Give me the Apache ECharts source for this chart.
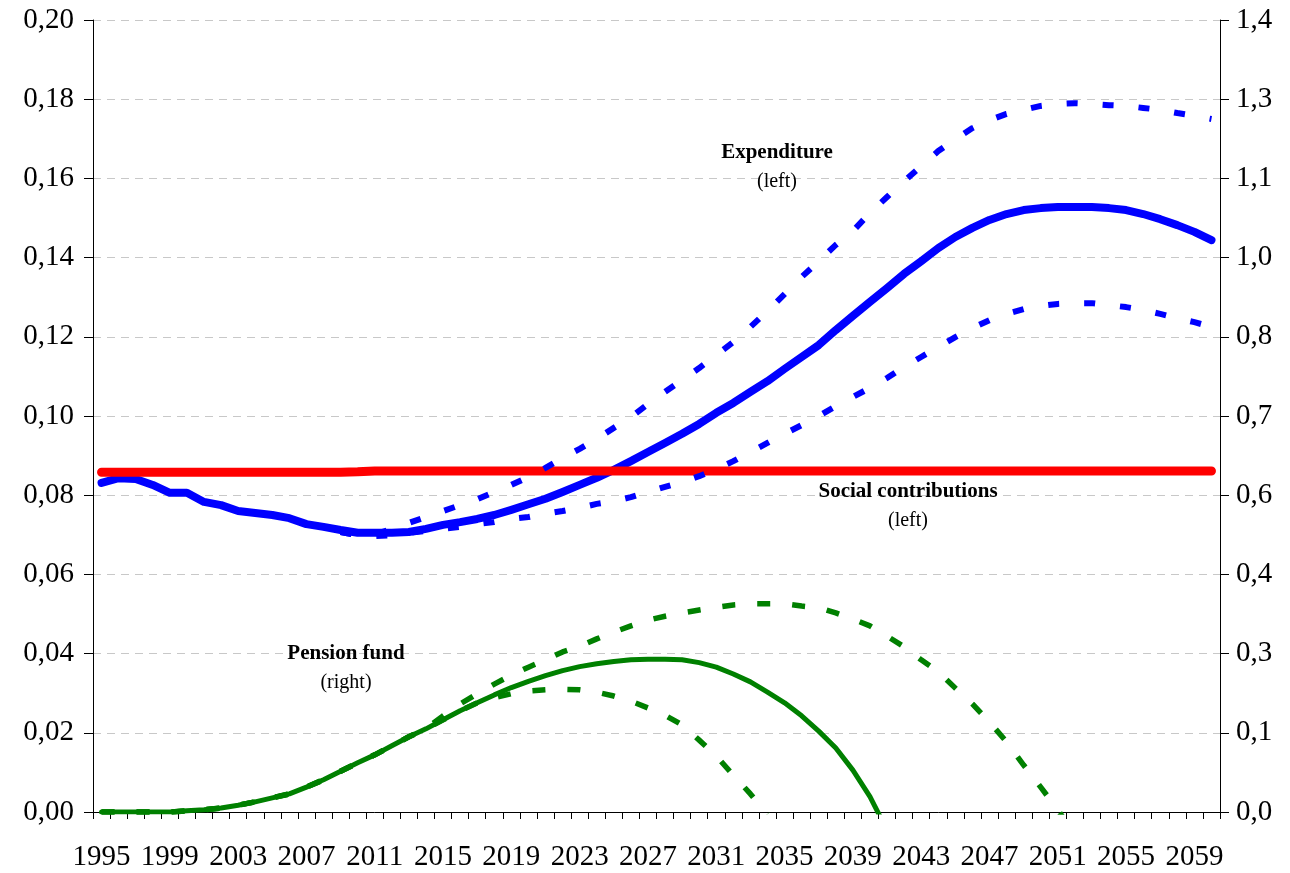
<!DOCTYPE html>
<html>
<head>
<meta charset="utf-8">
<title>Pension expenditure, social contributions and pension fund</title>
<script src="https://cdn.jsdelivr.net/npm/echarts@6/dist/echarts.min.js"></script>
<style>
  html, body { margin: 0; padding: 0; background: #fff; }
  #chart { width: 1290px; height: 873px; }
</style>
</head>
<body>
<div id="chart"></div>
<script>
// Years 1995–2060
const years = [];
for (let y = 1995; y <= 2060; y++) years.push(String(y));

// Expenditure, share of GDP (left axis): baseline and high/low variants (from 2009)
const expenditure = [
  0.0831, 0.0843, 0.0841, 0.0826, 0.0806, 0.0806, 0.0783, 0.0775, 0.0760, 0.0755,
  0.0750, 0.0742, 0.0727, 0.0720, 0.0712, 0.0705, 0.0705, 0.0705, 0.0707, 0.0715,
  0.0725, 0.0732, 0.0740, 0.0750, 0.0763, 0.0777, 0.0791, 0.0808, 0.0826, 0.0844,
  0.0864, 0.0886, 0.0909, 0.0932, 0.0955, 0.0980, 0.1008, 0.1033, 0.1061, 0.1088,
  0.1119, 0.1149, 0.1179, 0.1217, 0.1253, 0.1288, 0.1323, 0.1359, 0.1391, 0.1424,
  0.1452, 0.1475, 0.1495, 0.1510, 0.1520, 0.1525, 0.1528, 0.1528, 0.1528, 0.1525,
  0.1520, 0.1510, 0.1497, 0.1482, 0.1465, 0.1444
];
const expenditureHigh = [
  null, null, null, null, null, null, null, null, null, null,
  null, null, null, null, 0.0707, 0.0699, 0.0701, 0.0715, 0.0730, 0.0745,
  0.0760, 0.0775, 0.0790, 0.0808, 0.0826, 0.0846, 0.0869, 0.0894, 0.0917, 0.0942,
  0.0970, 0.0997, 0.1030, 0.1061, 0.1091, 0.1121, 0.1154, 0.1187, 0.1225, 0.1265,
  0.1308, 0.1351, 0.1391, 0.1432, 0.1467, 0.1513, 0.1553, 0.1593, 0.1631, 0.1669,
  0.1699, 0.1727, 0.1747, 0.1763, 0.1773, 0.1783, 0.1788, 0.1790, 0.1788, 0.1785,
  0.1783, 0.1778, 0.1773, 0.1765, 0.1758, 0.1750
];
const expenditureLow = [
  null, null, null, null, null, null, null, null, null, null,
  null, null, null, null, 0.0707, 0.0699, 0.0697, 0.0699, 0.0705, 0.0710,
  0.0715, 0.0720, 0.0727, 0.0732, 0.0740, 0.0745, 0.0753, 0.0760, 0.0768, 0.0778,
  0.0785, 0.0795, 0.0808, 0.0821, 0.0833, 0.0848, 0.0866, 0.0886, 0.0909, 0.0932,
  0.0955, 0.0977, 0.1000, 0.1025, 0.1048, 0.1071, 0.1096, 0.1124, 0.1149, 0.1174,
  0.1199, 0.1222, 0.1242, 0.1258, 0.1270, 0.1278, 0.1283, 0.1285, 0.1285, 0.1280,
  0.1275, 0.1268, 0.1258, 0.1247, 0.1237, 0.1225
];

// Social contributions, share of GDP (left axis)
const contributions = [
  0.0858, 0.0858, 0.0858, 0.0858, 0.0858, 0.0858, 0.0858, 0.0858, 0.0858, 0.0858,
  0.0858, 0.0858, 0.0858, 0.0858, 0.0858, 0.0859, 0.0861, 0.0861, 0.0861, 0.0861,
  0.0861, 0.0861, 0.0861, 0.0861, 0.0861, 0.0861, 0.0861, 0.0861, 0.0861, 0.0861,
  0.0861, 0.0861, 0.0861, 0.0861, 0.0861, 0.0861, 0.0861, 0.0861, 0.0861, 0.0861,
  0.0861, 0.0861, 0.0861, 0.0861, 0.0861, 0.0861, 0.0861, 0.0861, 0.0861, 0.0861,
  0.0861, 0.0861, 0.0861, 0.0861, 0.0861, 0.0861, 0.0861, 0.0861, 0.0861, 0.0861,
  0.0861, 0.0861, 0.0861, 0.0861, 0.0861, 0.0861
];

// Pension fund, share of GDP (right axis): baseline and high/low variants
const fund = [
  0.000, 0.000, 0.000, 0.000, 0.000, 0.002, 0.004, 0.007, 0.012, 0.018,
  0.025, 0.032, 0.044, 0.057, 0.072, 0.087, 0.101, 0.117, 0.133, 0.147,
  0.163, 0.179, 0.193, 0.207, 0.220, 0.231, 0.241, 0.250, 0.257, 0.262,
  0.266, 0.269, 0.270, 0.270, 0.269, 0.264, 0.256, 0.244, 0.230, 0.212,
  0.193, 0.170, 0.143, 0.113, 0.074, 0.027, -0.032
];
const fundHigh = [
  0.000, 0.000, 0.000, 0.000, 0.000, 0.002, 0.004, 0.007, 0.012, 0.018,
  0.025, 0.032, 0.044, 0.057, 0.072, 0.087, 0.101, 0.117, 0.133, 0.147,
  0.170, 0.191, 0.209, 0.226, 0.242, 0.256, 0.269, 0.283, 0.293, 0.306,
  0.318, 0.329, 0.339, 0.346, 0.352, 0.357, 0.362, 0.366, 0.368, 0.368,
  0.368, 0.364, 0.361, 0.352, 0.341, 0.329, 0.311, 0.292, 0.269, 0.248,
  0.219, 0.191, 0.159, 0.124, 0.083, 0.044, 0.004, -0.041
];
const fundLow = [
  0.000, 0.000, 0.000, 0.000, 0.000, 0.002, 0.004, 0.007, 0.012, 0.018,
  0.025, 0.032, 0.044, 0.057, 0.072, 0.087, 0.101, 0.117, 0.133, 0.147,
  0.163, 0.179, 0.193, 0.202, 0.209, 0.214, 0.216, 0.217, 0.216, 0.212,
  0.205, 0.196, 0.184, 0.171, 0.154, 0.127, 0.099, 0.065, 0.032, -0.004
];

// Tick labels
const leftTicks = ['0,00', '0,02', '0,04', '0,06', '0,08', '0,10', '0,12', '0,14', '0,16', '0,18', '0,20'];
const rightTicks = ['0,0', '0,1', '0,3', '0,4', '0,6', '0,7', '0,8', '1,0', '1,1', '1,3', '1,4'];

// Series annotations: [bold title, subtitle, centre x, centre y]
const notes = [
  ['Expenditure', '(left)', 777, 153],
  ['Social contributions', '(left)', 908, 492],
  ['Pension fund', '(right)', 346, 654]
];

const FONT = '"Liberation Serif", "Times New Roman", serif';
const BLUE = '#0000ff', RED = '#ff0000', GREEN = '#008000';

const chart = echarts.init(document.getElementById('chart'), null, { renderer: 'canvas' });

function lineSeries(name, data, yAxisIndex, color, width, type, z) {
  return {
    name, type: 'line', data, yAxisIndex,
    symbol: 'none', showSymbol: false, connectNulls: false, clip: true, z,
    lineStyle: { color, width, type, cap: type === 'solid' ? 'round' : 'butt', join: 'round' },
    emphasis: { disabled: true }
  };
}

const graphics = [];
notes.forEach(([title, sub, cx, cy]) => {
  graphics.push({
    type: 'text', x: cx, y: cy, z: 10,
    style: { text: title, align: 'center', verticalAlign: 'middle', font: 'bold 21px ' + FONT, fill: '#000' }
  });
  graphics.push({
    type: 'text', x: cx, y: cy + 29, z: 10,
    style: { text: sub, align: 'center', verticalAlign: 'middle', font: '20px ' + FONT, fill: '#000' }
  });
});

const option = {
  animation: false,
  backgroundColor: '#ffffff',
  grid: { left: 93, right: 70, top: 20, bottom: 61, containLabel: false },
  xAxis: {
    type: 'category',
    data: years,
    boundaryGap: true,
    axisLine: { onZero: false, lineStyle: { color: '#000', width: 1 } },
    axisTick: { show: true, interval: 0, length: 7, lineStyle: { color: '#000' } },
    axisLabel: { interval: 3, margin: 31, color: '#000', fontFamily: FONT, fontSize: 29 },
    splitLine: { show: false }
  },
  yAxis: [
    {
      type: 'value', position: 'left', min: 0, max: 0.2, interval: 0.02,
      axisLine: { show: true, lineStyle: { color: '#000', width: 1 } },
      axisTick: { show: true, length: 9, lineStyle: { color: '#000' } },
      axisLabel: {
        color: '#000', fontFamily: FONT, fontSize: 29, margin: 19,
        formatter: (v) => leftTicks[Math.round(v / 0.02)]
      },
      splitLine: { show: true, lineStyle: { color: '#c8c8c8', type: [8, 6], width: 1 } }
    },
    {
      type: 'value', position: 'right', min: 0, max: 1.4, interval: 0.14,
      axisLine: { show: true, lineStyle: { color: '#000', width: 1 } },
      axisTick: { show: true, length: 9, lineStyle: { color: '#000' } },
      axisLabel: {
        color: '#000', fontFamily: FONT, fontSize: 29, margin: 16,
        formatter: (v) => rightTicks[Math.round(v / 0.14)]
      },
      splitLine: { show: false }
    }
  ],
  series: [
    lineSeries('Pension fund (high)', fundHigh, 1, GREEN, 5.5, [13, 22], 2),
    lineSeries('Pension fund (low)', fundLow, 1, GREEN, 5.5, [13, 22], 2),
    lineSeries('Pension fund', fund, 1, GREEN, 5, 'solid', 3),
    lineSeries('Expenditure', expenditure, 0, BLUE, 8, 'solid', 4),
    lineSeries('Social contributions', contributions, 0, RED, 9, 'solid', 5),
    lineSeries('Expenditure (high)', expenditureHigh, 0, BLUE, 6, [11, 25], 6),
    lineSeries('Expenditure (low)', expenditureLow, 0, BLUE, 6, [11, 25], 6)
  ],
  graphic: graphics
};

chart.setOption(option);
</script>
</body>
</html>
